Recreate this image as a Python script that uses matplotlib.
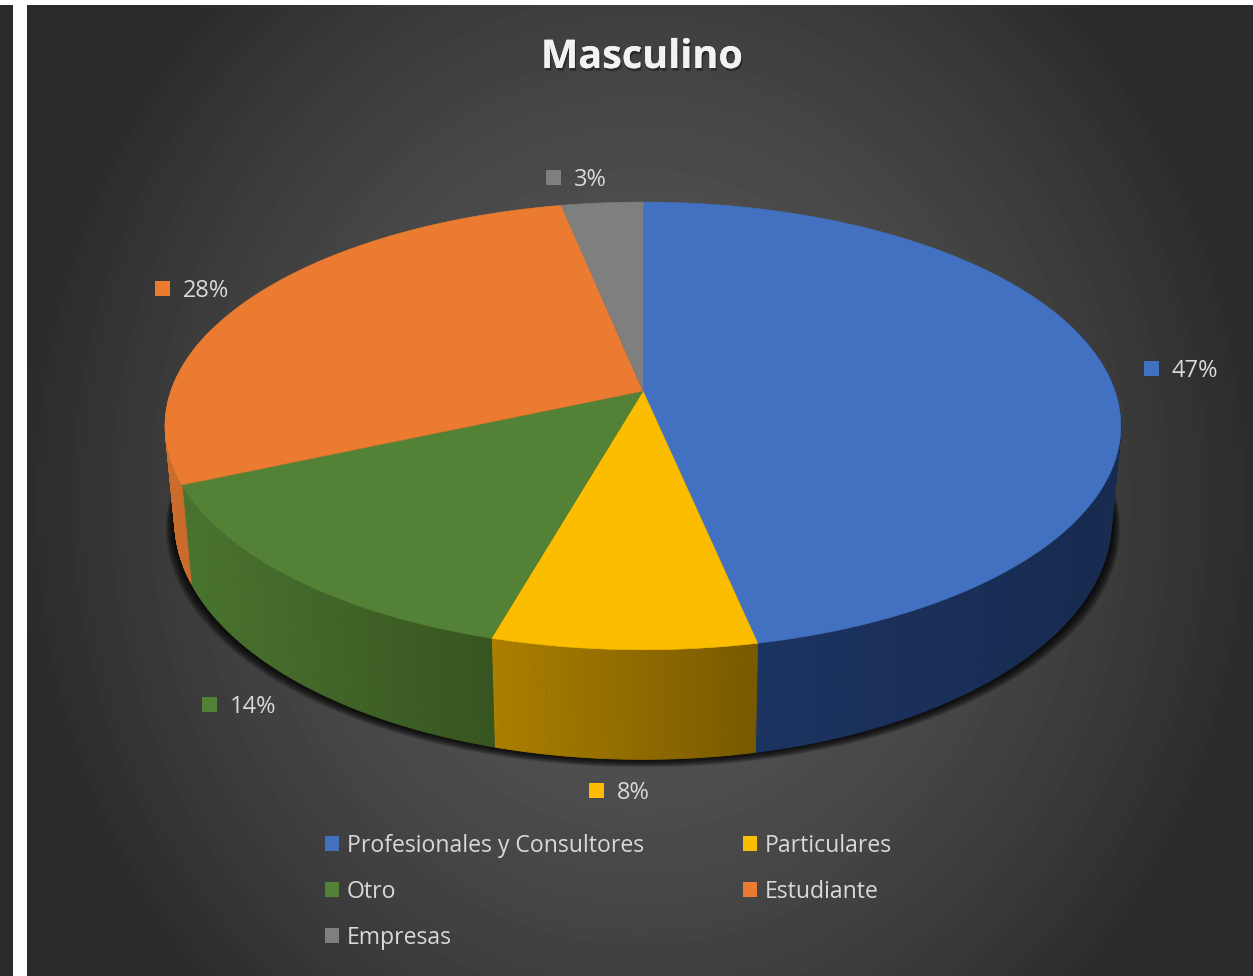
import numpy as np
import matplotlib
matplotlib.use('Agg')
import matplotlib.pyplot as plt
from matplotlib.patches import Rectangle
import matplotlib.patheffects as pe

# data
categories = ['Profesionales y Consultores', 'Particulares', 'Otro', 'Estudiante', 'Empresas']
values = [46.7, 7.7, 14.0, 28.4, 3.2]
percent_labels = ['47%', '8%', '14%', '28%', '3%']

# styles
top_colors = ['#4271c1', '#fcbd00', '#538135', '#ea7b30', '#7f7f7f']
wall_left = ['#1c3462', '#ab7f00', '#4b7430', '#c96c2c', '#5f5f5f']
wall_right = ['#182b50', '#785a00', '#375520', '#c96c2c', '#5f5f5f']
label_pos = [(1144, 368), (589, 790), (202, 704), (155, 288), (546, 177)]
legend_pos = [(325, 843), (743, 843), (325, 889), (743, 889), (325, 935)]

# projection of the pie disc, pixel units
cx, cy = 643, 391
rx, ry = 472, 157.4
persp = 0.156
depth = 92.5
shrink = 0.98


def top_xy(theta):
    u, v = np.sin(theta), -np.cos(theta)
    w = 1 - persp * v
    return cx + rx * u / w, (ry * v + cy) / w


def bottom_xy(theta):
    u, v = np.sin(theta), -np.cos(theta)
    w = 1 - persp * v
    return cx + shrink * rx * u / w, (ry * v + cy + depth) / w


fig = plt.figure(figsize=(12.53, 9.76), dpi=100, facecolor='white')
ax = fig.add_axes([0, 0, 1, 1])
ax.set_xlim(0, 1253)
ax.set_ylim(976, 0)
ax.axis('off')
plt.rcParams['font.family'] = ['Open Sans', 'DejaVu Sans']

# background
gx, gy = np.meshgrid(np.arange(27, 1253), np.arange(5, 976))
t = np.sqrt(((gx - 640) / 620) ** 2 + ((gy - 500) / 700) ** 2)
grey = np.clip(0x58 - 0x2c * t ** 1.6, 0x2a, 0x58) / 255
ax.imshow(grey, cmap='gray', vmin=0, vmax=1, extent=(27, 1253, 976, 5), aspect='auto', zorder=0)
ax.add_patch(Rectangle((0, 5), 13, 971, color='#2b2b2b', lw=0, zorder=0))

fractions = np.array(values) / sum(values)
edges = np.concatenate([[0], np.cumsum(fractions)]) * 2 * np.pi

# shadow under the pie
all_theta = np.linspace(0, 2 * np.pi, 361)
sx, sy = bottom_xy(all_theta)
for grow in range(16, 0, -1):
    ax.fill((sx - cx) * (1 + grow * 0.0012) + cx, sy + grow * 0.5, color='black', alpha=0.085, lw=0, zorder=1)

# walls
for i in range(len(values)):
    th = np.linspace(edges[i], edges[i + 1], max(int(np.degrees(edges[i + 1] - edges[i])), 2) * 2)
    front = th[(np.cos(th) < 0.3)]
    if len(front) < 2:
        continue
    xs = top_xy(front)[0]
    lo, hi = xs.min(), xs.max()
    c0 = np.array(matplotlib.colors.to_rgb(wall_left[i]))
    c1 = np.array(matplotlib.colors.to_rgb(wall_right[i]))
    for a, b in zip(front[:-1], front[1:]):
        pair = np.array([a, b])
        xt, yt = top_xy(pair)
        xb, yb = bottom_xy(pair)
        f = (xt.mean() - lo) / max(hi - lo, 1)
        col = c0 + (c1 - c0) * f
        ax.fill([xt[0], xt[1], xb[1], xb[0]], [yt[0], yt[1], yb[1], yb[0]],
                color=col, lw=0.6, zorder=2)

# tops
for i in range(len(values)):
    th = np.linspace(edges[i], edges[i + 1], 200)
    xt, yt = top_xy(th)
    ax.fill(np.r_[cx, xt], np.r_[cy, yt], color=top_colors[i], lw=0.4, zorder=3)

# data labels
for (x, y), lab, col in zip(label_pos, percent_labels, top_colors):
    ax.add_patch(Rectangle((x, y - 7.5), 15, 15, color=col, lw=0, zorder=4))
    ax.text(x + 28, y, lab, color='#d9d9d9', fontsize=17, va='center_baseline', ha='left', zorder=4)

# legend
for (x, y), name, col in zip(legend_pos, categories, top_colors):
    ax.add_patch(Rectangle((x, y - 7.5), 14, 15, color=col, lw=0, zorder=4))
    ax.text(x + 22, y, name, color='#d9d9d9', fontsize=16.6, va='center_baseline', ha='left', zorder=4)

title = ax.text(642, 53, 'Masculino', color='#f2f2f2', fontsize=28.5, fontweight='bold',
                ha='center', va='center_baseline', zorder=4)
title.set_path_effects([pe.withSimplePatchShadow(offset=(1, -2), shadow_rgbFace='black', alpha=0.35), pe.Normal()])

fig.savefig('out.png', dpi=100, facecolor='white')
